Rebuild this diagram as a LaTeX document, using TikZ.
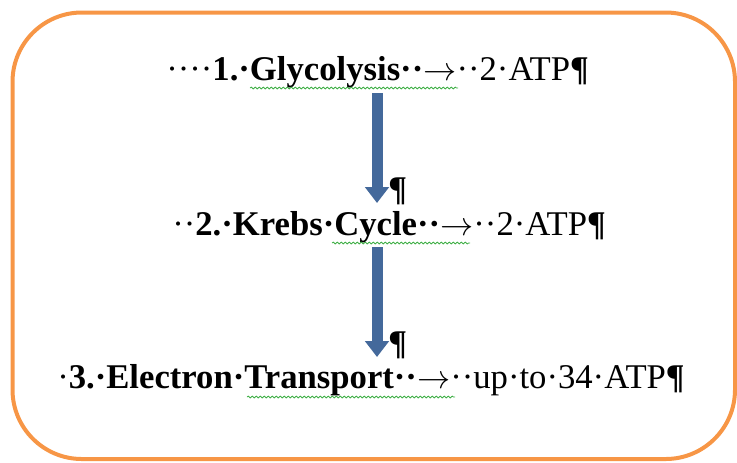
\documentclass[tikz,border=0pt]{standalone}
\usepackage{fontspec}
\setmainfont{Liberation Serif}
\usepackage{tikz}
\usetikzlibrary{
  arrows.meta,
  decorations.pathmorphing
}
\definecolor{boxorange}{HTML}{F79646}
\definecolor{arrowblue}{HTML}{44699B}
\definecolor{spellgreen}{HTML}{3FAF46}
\newcommand{\yields}{$\rightarrow$}
\tikzset{
  stepline/.style={anchor=base west, inner sep=0pt, font=\fontsize{26}{30}\selectfont},
  flowarrow/.style={arrowblue, line width=8.25pt, -{Triangle[width=17.5pt,length=12pt]}},
  wavy/.style={spellgreen, line width=0.6pt, decorate,
    decoration={snake, amplitude=0.7pt, segment length=3pt}},
}

\begin{document}
\begin{tikzpicture}[x=0.75pt,y=-0.75pt]
\useasboundingbox (0,0) rectangle (737,462);
\draw[boxorange, line width=3pt, rounded corners=52pt] (12.5,12.5) rectangle (735,459);
% the three steps
\node[stepline] (glyco) at (166,80) {····\textbf{1.·Glycolysis··}\yields··2·ATP\textbf{¶}};
\node[stepline] (krebs) at (172,235) {··\textbf{2.·Krebs·Cycle··}\yields··2·ATP\textbf{¶}};
\node[stepline] (etc) at (57,388) {·\textbf{3.·Electron·Transport··}\yields··up·to·34·ATP\textbf{¶}};
% empty paragraphs beside the arrows
\node[stepline] (mark1) at (388,200) {\textbf{¶}};
\node[stepline] (mark2) at (388,354) {\textbf{¶}};
% arrows
\coordinate (a1) at (377,93);
\coordinate (b1) at (377,203);
\coordinate (a2) at (377,247);
\coordinate (b2) at (377,357);
\draw[flowarrow] (a1) -- (b1);
\draw[flowarrow] (a2) -- (b2);
% spelling underlines
\draw[wavy] (250,88) -- (458,88);
\draw[wavy] (332,243) -- (470,243);
\draw[wavy] (247,397) -- (455,397);
\end{tikzpicture}
\end{document}
